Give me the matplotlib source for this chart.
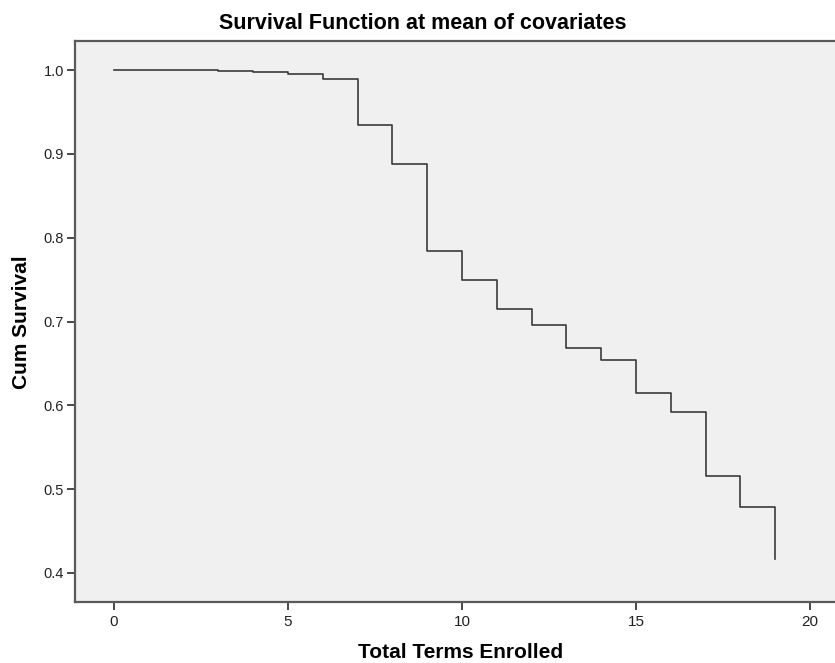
import numpy as np
import matplotlib
matplotlib.use('Agg')
import matplotlib.pyplot as plt

# step times (terms) and cumulative survival at each step
terms = [0, 3, 4, 5, 6, 7, 8, 9, 10, 11, 12, 13, 14, 15, 16, 17, 18, 19]
cum_survival = [1.0, 0.9992, 0.9976, 0.9956, 0.989, 0.934, 0.888, 0.7845, 0.749,
                0.7145, 0.6955, 0.6687, 0.654, 0.615, 0.592, 0.5157, 0.4787, 0.4167]

x_ticks = [0, 5, 10, 15, 20]
y_ticks = [0.4, 0.5, 0.6, 0.7, 0.8, 0.9, 1.0]

plt.rcParams['font.family'] = ['Liberation Sans', 'DejaVu Sans']

fig = plt.figure(figsize=(8.35, 6.63), dpi=100)
fig.patch.set_facecolor('white')

# axes runs a little past the right edge of the figure
ax = fig.add_axes([75 / 835, 61 / 663, 773 / 835, 561 / 663])
ax.set_facecolor('#f0f0f0')

ax.step(terms, cum_survival, where='post', color='#3a3a3a', lw=1.2)

ax.set_xlim(-1.12, 21.09)
ax.set_ylim(0.3654, 1.0346)
ax.set_xticks(x_ticks)
ax.set_yticks(y_ticks)
ax.set_yticklabels(['%.1f' % v for v in y_ticks])

for s in ax.spines.values():
    s.set_color('#5a5a5a')
    s.set_linewidth(1.6)

ax.tick_params(direction='out', length=6, width=1.3, color='#3a3a3a',
               labelcolor='#222222', pad=2)
ax.tick_params(axis='x', labelsize=11, pad=3)
ax.tick_params(axis='y', labelsize=10.5)

# axis titles placed in figure pixels
fig.text(461 / 835, 1 - 653 / 663, 'Total Terms Enrolled', ha='center', va='center',
         fontsize=15, fontweight='bold')
fig.text(22 / 835, 1 - 322 / 663, 'Cum Survival', ha='center', va='center',
         rotation=90, fontsize=15, fontweight='bold')
fig.text(423 / 835, 1 - 23.5 / 663, 'Survival Function at mean of covariates',
         ha='center', va='center', fontsize=15.5, fontweight='bold')

fig.savefig('out.png', dpi=100)
